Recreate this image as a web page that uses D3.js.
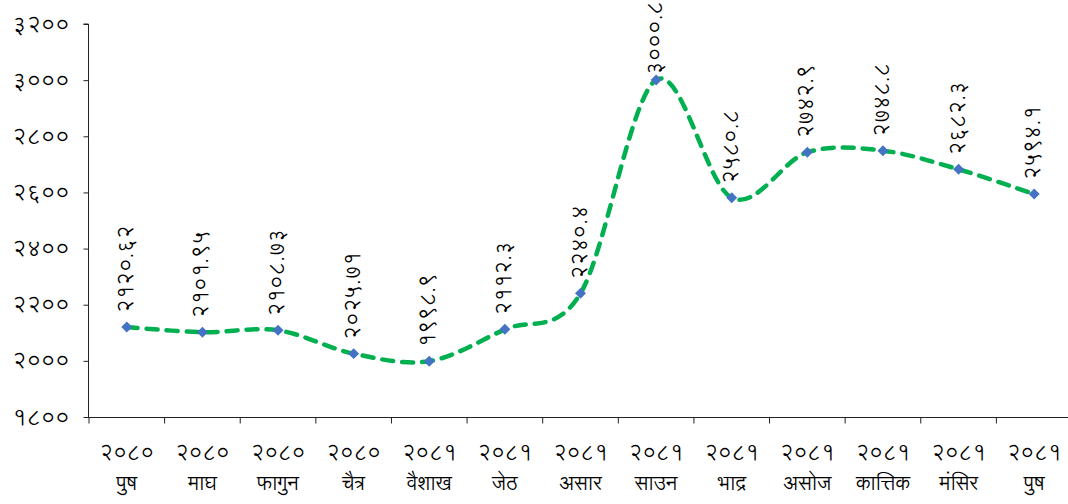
<!DOCTYPE html>
<html><head><meta charset="utf-8">
<script src="https://cdn.jsdelivr.net/npm/d3@7"></script>
<style>
html,body{margin:0;padding:0;background:#fff;}
svg{display:block;}
text{font-family:"Lohit Devanagari","FreeSans",sans-serif;fill:#000;}
</style></head><body>
<svg id="c" width="1068" height="504"></svg>
<script>
const years = ["२०८०","२०८०","२०८०","२०८०","२०८१","२०८१","२०८१","२०८१","२०८१","२०८१","२०८१","२०८१","२०८१"];
const months = ["पुष","माघ","फागुन","चैत्र","वैशाख","जेठ","असार","साउन","भाद्र","असोज","कात्तिक","मंसिर","पुष"];
const values = [2120.62, 2101.95, 2108.73, 2025.71, 1998.9, 2112.3, 2240.4, 3000.8, 2580.8, 2742.9, 2748.8, 2682.3, 2594.1];
const valueLabels = ["२१२०.६२","२१०१.९५","२१०८.७३","२०२५.७१","१९९८.९","२११२.३","२२४०.४","३०००.८","२५८०.८","२७४२.९","२७४८.८","२६८२.३","२५९४.१"];
const yTicks = [1800, 2000, 2200, 2400, 2600, 2800, 3000, 3200];
const yTickLabels = ["१८००","२०००","२२००","२४००","२६००","२८००","३०००","३२००"];

const svg = d3.select("#c");
const mLeft = 89, mRight = 1072, mTop = 24, mBottom = 417;
const idx = d3.range(values.length);
const x = d3.scaleBand().domain(idx).range([mLeft, mRight]).padding(0);
const y = d3.scaleLinear().domain([1800, 3200]).range([mBottom, mTop]);

// Y axis
const yAxis = d3.axisLeft(y).tickValues(yTicks).tickSize(5).tickPadding(14)
  .tickFormat((d,i)=>yTickLabels[i]);
const gy = svg.append("g").attr("transform",`translate(${mLeft-0.5},0)`).call(yAxis);
gy.select(".domain").attr("stroke","#222").attr("d",`M-5,${y(3200)}H0V${mBottom}`);
gy.selectAll(".tick line").attr("stroke","#222");
gy.selectAll(".tick text").attr("font-size",22).attr("fill","#222")
  .attr("font-family",'"Lohit Devanagari",sans-serif');

// X axis
const xAxis = d3.axisBottom(x).tickSize(0).tickFormat(()=>"");
const gx = svg.append("g").attr("transform",`translate(0,${mBottom+0.5})`).call(xAxis);
gx.select(".domain").attr("stroke","#222").attr("d",`M${mLeft-5},0H${mRight}`);
const tickPos = d3.range(values.length+1).map(i=>mLeft + i*x.bandwidth());
gx.selectAll("line.xt").data(tickPos).enter().append("line").attr("class","xt")
  .attr("x1",d=>d).attr("x2",d=>d).attr("y1",0).attr("y2",6).attr("stroke","#222");
const labG = svg.append("g");
labG.selectAll("text.yr").data(idx).enter().append("text").attr("class","yr")
  .attr("x",i=>x(i)+x.bandwidth()/2).attr("y",460).attr("text-anchor","middle")
  .attr("font-size",21).text(i=>years[i]);
labG.selectAll("text.mo").data(idx).enter().append("text").attr("class","mo")
  .attr("x",i=>x(i)+x.bandwidth()/2).attr("y",490).attr("text-anchor","middle")
  .attr("font-size",20).text(i=>months[i]);

// Line
const cx = i=>x(i)+x.bandwidth()/2;
const line = d3.line().x(i=>cx(i)).y(i=>y(values[i])).curve(d3.curveCardinal.tension(0));
svg.append("path").attr("d",line(idx)).attr("fill","none").attr("stroke","#00B050")
  .attr("stroke-width",4.5).attr("stroke-dasharray","11,9").attr("stroke-linecap","round");

// Markers
svg.selectAll("path.mk").data(idx).enter().append("path").attr("class","mk")
  .attr("transform",i=>`translate(${cx(i)},${y(values[i])}) rotate(45)`)
  .attr("d", d3.symbol().type(d3.symbolSquare).size(60)())
  .attr("fill","#4472C4");

// Data labels
svg.selectAll("text.dl").data(idx).enter().append("text").attr("class","dl")
  .attr("font-size",21).attr("dominant-baseline","central").attr("text-anchor","start")
  .text(i=>valueLabels[i])
  .each(function(i){
    const len = this.getComputedTextLength();
    let start = y(values[i]) - 14;
    if (start - len < 1) start = 1 + len;
    d3.select(this).attr("transform",`translate(${cx(i)},${start}) rotate(-90)`);
  });
</script>
</body></html>
